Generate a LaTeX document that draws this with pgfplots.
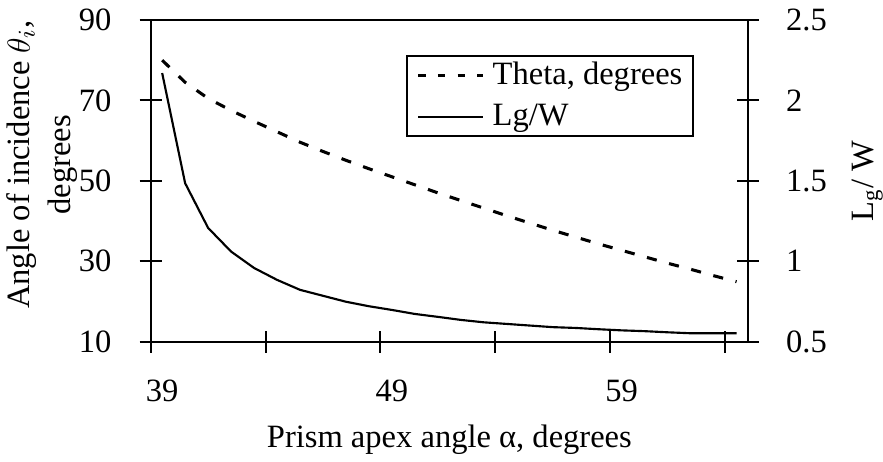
\documentclass[border=0pt]{standalone}
\usepackage{fontspec}
\setmainfont{Liberation Serif}
\usepackage{pgfplots}
\usepackage{pgfplotstable}
\pgfplotsset{compat=1.18}

\pgfplotstableread{
alpha theta
39 80.0
40 74.5
41 70.5
42 67.5
43 64.8
44 62.2
45 59.6
46 57.3
47 55.1
48 53.0
49 51.0
50 49.0
51 47.0
52 45.1
53 43.2
54 41.3
55 39.5
56 37.7
57 36.0
58 34.3
59 32.7
60 31.1
61 29.5
62 28.0
63 26.4
64 24.9
}\thetatable

\pgfplotstableread{
alpha lgw
39 2.17
40 1.485
41 1.207
42 1.06
43 0.958
44 0.884
45 0.822
46 0.785
47 0.748
48 0.720
49 0.697
50 0.672
51 0.654
52 0.635
53 0.620
54 0.610
55 0.600
56 0.590
57 0.585
58 0.577
59 0.570
60 0.565
61 0.558
62 0.552
63 0.552
64 0.552
}\lgwtable

\begin{document}
\begin{tikzpicture}[font=\fontsize{12.2}{14.6}\selectfont]
\useasboundingbox (-56.5pt,-45.1pt) rectangle (274.6pt,128.1pt);
\pgfplotsset{
  base/.style={
    scale only axis, width=224pt, height=120.6pt,
    at={(0pt,0pt)}, anchor=south west,
    xmin=38.5, xmax=64.5,
    axis line style={line width=0.75pt, black},
    tick align=center, major tick length=8.2pt,
    every tick/.style={black, line width=0.75pt},
    /pgf/number format/assume math mode=true,
    tick label style={font=\fontsize{12.2}{14.6}\selectfont},
    label style={font=\fontsize{12.2}{14.6}\selectfont},
    thetastyle/.style={black, line width=1.15pt, dash pattern=on 3.8pt off 4.8pt},
    lgwstyle/.style={black, line width=0.8pt},
  }
}
\begin{axis}[base,
  ymin=10, ymax=90,
  ytick={10,30,50,70,90},
  yticklabels={10,30,50,70,90},
  ytick pos=left, xtick pos=bottom,
  xtick={38.5,43.5,48.5,53.5,58.5,63.5},
  xticklabels={},
  extra x ticks={39,49,59},
  extra x tick labels={39,49,59},
  extra x tick style={major tick length=0pt, xtick style={draw=none}},
  xticklabel style={anchor=north, inner sep=0pt, yshift=-14pt},
  yticklabel style={anchor=east, inner sep=0pt, xshift=-10.4pt},
  every axis y label/.style={at={(rel axis cs:-0.1217,0.55)}, rotate=90, anchor=south, align=center, inner sep=0pt, font=\fontsize{12.2}{15.2}\selectfont},
  ylabel={Angle of incidence $\theta_i$,\\degrees},
  every axis x label/.style={at={(rel axis cs:0.5,-0.330)}, anchor=base, inner sep=0pt},
  xlabel={Prism apex angle α, degrees},
]
\addplot[thetastyle] table[x=alpha, y=theta] {\thetatable};
\end{axis}
\begin{axis}[base,
  axis y line*=right, axis x line=none,
  ymin=0.5, ymax=2.5,
  ytick={0.5,1,1.5,2,2.5},
  yticklabels={0.5,1,1.5,2,2.5},
  yticklabel style={anchor=west, inner sep=0pt, xshift=10pt},
  every axis y label/.style={at={(rel axis cs:1.1724,0.5)}, rotate=90, anchor=north, inner sep=0pt},
  ylabel={L\textsubscript{g}/ W},
  legend style={at={(rel axis cs:0.9096,0.891)}, anchor=north east, draw=black, line width=0.75pt, fill=white, inner xsep=1pt, inner ysep=0pt, row sep=1.5pt, nodes={inner xsep=3pt, inner ysep=2.2pt}},
  legend cell align=left,
  legend image code/.code={\path (0pt,0pt); \draw[#1] (2.4pt,0pt) -- (26.8pt,0pt);},
]
\addlegendimage{thetastyle, dash pattern=on 2.8pt off 4.6pt}
\addlegendentry{Theta, degrees}
\addplot[lgwstyle] table[x=alpha, y=lgw] {\lgwtable};
\addlegendentry{Lg/W}
\end{axis}
\end{tikzpicture}
\end{document}
